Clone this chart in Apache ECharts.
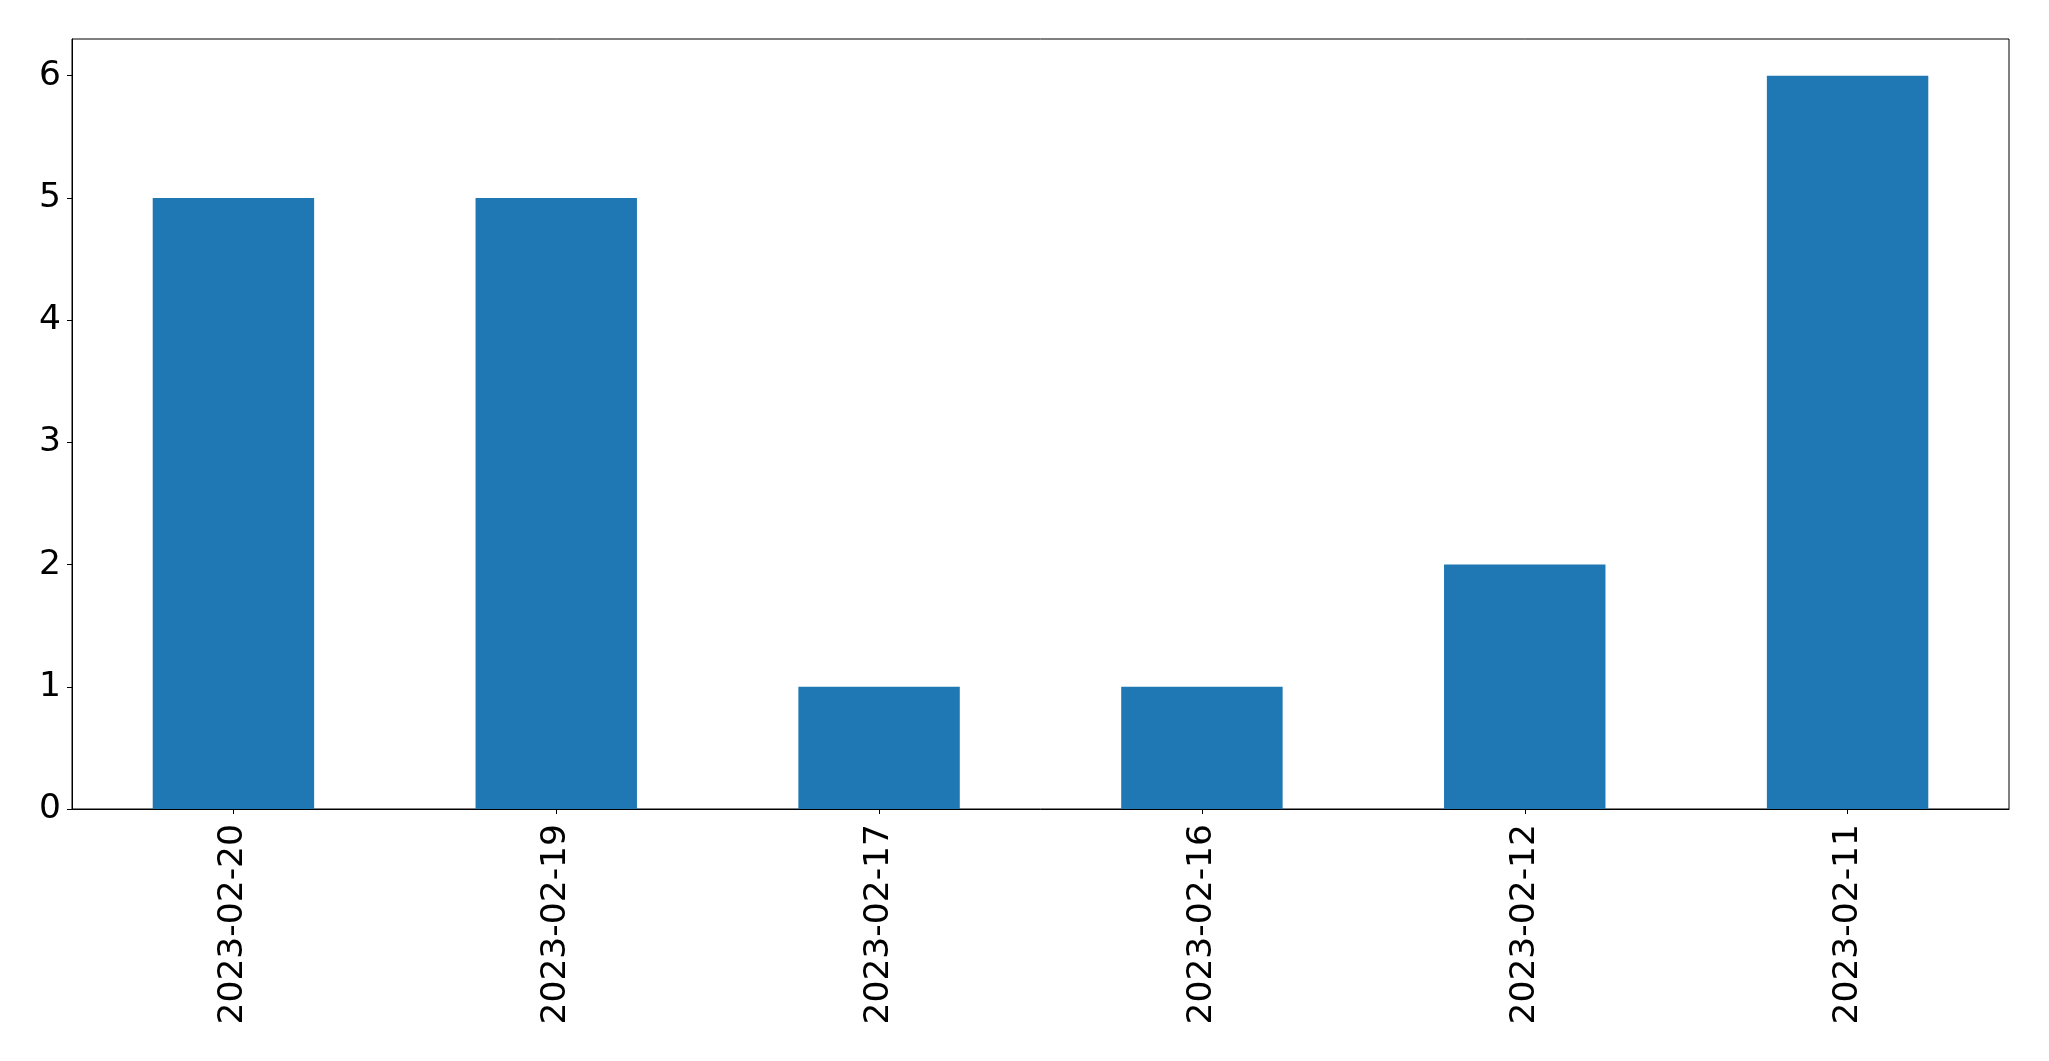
<!DOCTYPE html>
<html>
<head>
<meta charset="utf-8">
<script src="https://cdn.jsdelivr.net/npm/echarts@6/dist/echarts.min.js"></script>
<style>
html,body{margin:0;padding:0;background:#fff;}
#chart{width:2049px;height:1061px;}
</style>
</head>
<body>
<div id="chart"></div>
<script>
const categories = ['2023-02-20','2023-02-19','2023-02-17','2023-02-16','2023-02-12','2023-02-11'];
const values = [5, 5, 1, 1, 2, 6];
const yTicks = [0, 1, 2, 3, 4, 5, 6];

const chart = echarts.init(document.getElementById('chart'), null, {renderer: 'canvas'});
const font = 'DejaVu Sans';
chart.setOption({
  animation: false,
  backgroundColor: '#ffffff',
  grid: {
    left: 72, right: 40, top: 39, bottom: 252,
    show: true, borderColor: '#000', borderWidth: 1, backgroundColor: 'transparent'
  },
  xAxis: {
    type: 'category',
    data: categories,
    boundaryGap: true,
    axisLine: {show: true, lineStyle: {color: '#000', width: 1}},
    axisTick: {show: true, alignWithLabel: true, length: 5, lineStyle: {color: '#000'}},
    axisLabel: {rotate: 90, fontSize: 34.5, fontFamily: font, color: '#000', margin: 15},
    splitLine: {show: false}
  },
  yAxis: {
    type: 'value',
    min: 0, max: 6.3,
    axisLine: {show: true, lineStyle: {color: '#000', width: 1}},
    axisTick: {show: true, length: 5, lineStyle: {color: '#000'}, customValues: yTicks},
    axisLabel: {fontSize: 34.5, fontFamily: font, color: '#000', margin: 11, customValues: yTicks},
    splitLine: {show: false}
  },
  series: [{
    type: 'bar',
    data: values,
    barWidth: '50%',
    itemStyle: {color: '#1f77b4'}
  }]
});
</script>
</body>
</html>
